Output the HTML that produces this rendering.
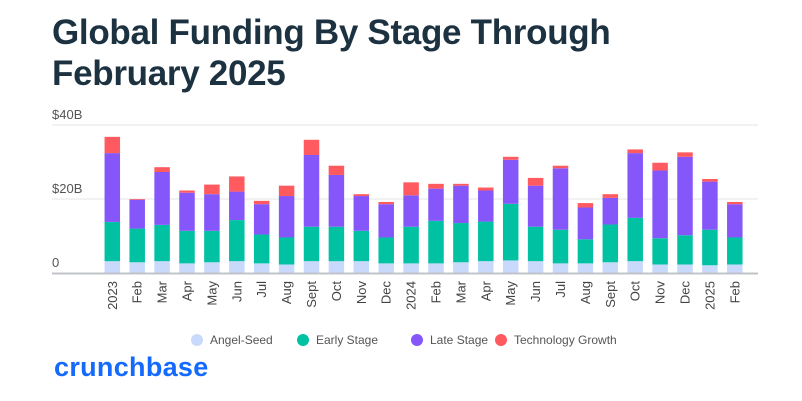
<!DOCTYPE html>
<html><head><meta charset="utf-8"><style>
body{margin:0;background:#fff;font-family:"Liberation Sans",sans-serif;}
#wrap{position:relative;width:802px;height:401px;overflow:hidden;}
h1{position:absolute;left:52px;top:12px;margin:0;font-size:35px;line-height:41px;font-weight:bold;color:#1d3241;letter-spacing:-0.3px;}
#logo{position:absolute;left:54px;top:352px;font-size:27px;color:#146aff;font-weight:bold;letter-spacing:0.3px;}
</style></head><body>
<div id="wrap">
<h1>Global Funding By Stage Through<br>February 2025</h1>
<svg id="chart" width="802" height="401" style="position:absolute;left:0;top:0"></svg>
<div id="logo">crunchbase</div>
</div>
<script>
const categories=["2023","Feb","Mar","Apr","May","Jun","Jul","Aug","Sept","Oct","Nov","Dec","2024","Feb","Mar","Apr","May","Jun","Jul","Aug","Sept","Oct","Nov","Dec","2025","Feb"];
const angelSeed=[3.2,2.9,3.2,2.6,2.9,3.2,2.6,2.3,3.2,3.2,3.2,2.6,2.6,2.6,2.9,3.2,3.4,3.2,2.6,2.6,2.9,3.2,2.3,2.3,2.1,2.3];
const earlyStage=[10.6,9.1,9.8,8.8,8.5,11.1,7.8,7.3,9.3,9.3,8.2,7.0,9.9,11.5,10.6,10.7,15.3,9.3,9.1,6.5,10.2,11.7,7.1,7.9,9.6,7.3];
const lateStage=[18.6,7.8,14.3,10.3,9.9,7.7,8.2,11.2,19.4,14.0,9.4,9.0,8.5,8.7,10.1,8.4,11.9,11.1,16.6,8.6,7.2,17.5,18.3,21.2,13.0,9.0];
const techGrowth=[4.4,0.2,1.3,0.6,2.6,4.1,0.9,2.8,4.1,2.5,0.5,0.6,3.5,1.3,0.5,0.8,0.8,2.1,0.7,1.2,1.0,1.0,2.1,1.2,0.7,0.6];
const yTicks=[0,20,40];
const yTickLabels=["0","$20B","$40B"];
const seriesNames=["Angel-Seed","Early Stage","Late Stage","Technology Growth"];
const colors=["#c9d9fb","#00c2a2","#8557fb","#ff5a5f"];
const NS="http://www.w3.org/2000/svg";
const svg=document.getElementById('chart');
const y0=273,pxPerB=3.7,x0=112.3,step=24.9,bw=15.5;
const y=v=>y0-v*pxPerB;
const x=i=>x0+i*step;
function mk(t,a){const e=document.createElementNS(NS,t);for(const k in a)e.setAttribute(k,a[k]);svg.appendChild(e);return e;}
yTicks.forEach((t,i)=>{
 if(t>0){const g=mk('line',{x1:52,x2:758,y1:y(t),y2:y(t),stroke:'#e6e6e6','stroke-width':1});
 
 }
 const l=mk('text',{x:52,y:y(t)-6,'font-size':13,fill:'#555','font-family':'Liberation Sans, sans-serif'});
 l.textContent=yTickLabels[i];
 
 
});
const series=[angelSeed,earlyStage,lateStage,techGrowth];
categories.forEach((c,i)=>{
 let acc=0;
 series.forEach((s,k)=>{
  const v=s[i];
  const r=mk('rect',{x:x(i)-bw/2,y:y(acc+v),width:bw,height:v*pxPerB,fill:colors[k]});
  
  
  acc+=v;
 });
 const t=mk('text',{x:0,y:0,'font-size':13,fill:'#444','text-anchor':'end',transform:`translate(${x(i)+4.5},281) rotate(-90)`,'font-family':'Liberation Sans, sans-serif'});
 t.textContent=c;
 
 
});
const ax=mk('line',{x1:52,x2:758,y1:y0+0.5,y2:y0+0.5,stroke:'#c0c4c8','stroke-width':2});


const legX=[197,303,417,501];
seriesNames.forEach((n,k)=>{
 const c=mk('circle',{cx:legX[k],cy:340,r:6,fill:colors[k]});
 
 
 const t=mk('text',{x:legX[k]+13,y:344,'font-size':12,fill:'#555','font-family':'Liberation Sans, sans-serif'});
 t.textContent=n;
 
 
});
</script>
</body></html>
